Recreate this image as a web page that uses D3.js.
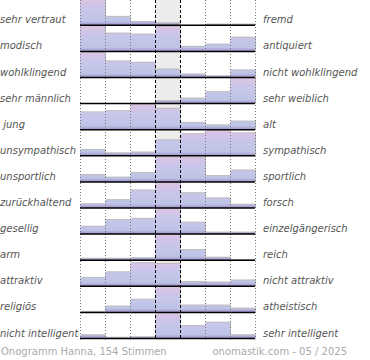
<!DOCTYPE html>
<html><head><meta charset="utf-8">
<script src="https://cdn.jsdelivr.net/npm/d3@7"></script>
<style>
html,body{margin:0;padding:0;background:#fff;}
svg{display:block;}
text{font-family:"DejaVu Sans",Verdana,sans-serif;}
</style></head>
<body>
<svg id="chart" width="370" height="360"></svg>
<script>
const leftLabels = ["sehr vertraut","modisch","wohlklingend","sehr männlich"," jung","unsympathisch","unsportlich","zurückhaltend","gesellig","arm","attraktiv","religiös","nicht intelligent"];
const rightLabels = ["fremd","antiquiert","nicht wohlklingend","sehr weiblich","alt","sympathisch","sportlich","forsch","einzelgängerisch","reich","nicht attraktiv","atheistisch","sehr intelligent"];
const columns = [1,2,3,4,5,6,7];
// bar heights in percent of row height, one list per row
const values = [
  [100, 33, 13, 8, 0, 3, 3],
  [100, 70, 66, 96, 18, 27, 54],
  [97, 63, 58, 31, 12, 5, 28],
  [0, 0, 0, 10, 20, 45, 100],
  [68, 73, 98, 82, 27, 17, 32],
  [23, 10, 13, 61, 85, 100, 88],
  [27, 17, 35, 97, 95, 23, 45],
  [15, 31, 69, 100, 58, 38, 13],
  [29, 55, 60, 100, 45, 6, 6],
  [6, 6, 8, 100, 40, 10, 1],
  [33, 55, 91, 88, 17, 15, 23],
  [2, 23, 50, 100, 27, 27, 15],
  [13, 3, 5, 100, 49, 62, 13]
];
const footerLeft = "Onogramm Hanna, 154 Stimmen";
const footerRight = "onomastik.com - 05 / 2025";

const svg = d3.select("#chart");
const x = d3.scaleBand().domain(columns).range([80, 255]).padding(0);
const y = d3.scaleBand().domain(d3.range(leftLabels.length)).range([-0.8, 338.5]).padding(0);
const h = d3.scaleLinear().domain([0, 100]).range([0, y.bandwidth() - 0.6]);
const plotBottom = y.range()[1] + 1;

const defs = svg.append("defs");
leftLabels.forEach((_, i) => {
  const g = defs.append("linearGradient").attr("id", "grad" + i)
    .attr("gradientUnits", "userSpaceOnUse")
    .attr("x1", 0).attr("x2", 0)
    .attr("y1", y(i)).attr("y2", y(i) + y.bandwidth());
  g.append("stop").attr("offset", 0).attr("stop-color", "#dfc3e3");
  g.append("stop").attr("offset", 0.4).attr("stop-color", "#c8c6ea");
  g.append("stop").attr("offset", 0.85).attr("stop-color", "#bec4e6");
  g.append("stop").attr("offset", 1).attr("stop-color", "#9d8ec8");
});

// middle column background
svg.append("rect")
  .attr("x", x(4)).attr("y", 0)
  .attr("width", x.bandwidth()).attr("height", plotBottom)
  .attr("fill", "#ececec");

// bars
values.forEach((row, i) => {
  const base = y(i) + y.bandwidth();
  const g = svg.append("g");
  const data = row.map((v, j) => ({col: columns[j], v})).filter(d => d.v > 0);
  g.selectAll("rect.shadow").data(data).join("rect")
    .attr("class", "shadow")
    .attr("x", d => x(d.col) + 1).attr("y", d => base - h(d.v) - 1)
    .attr("width", x.bandwidth()).attr("height", d => h(d.v) + 1)
    .attr("fill", "#a8a8a8").attr("opacity", 0.75);
  g.selectAll("rect.bar").data(data).join("rect")
    .attr("class", "bar")
    .attr("x", d => x(d.col)).attr("y", d => base - h(d.v))
    .attr("width", x.bandwidth()).attr("height", d => h(d.v))
    .attr("fill", "url(#grad" + i + ")");
});

// grid lines
const dotted = [1,2,3,6,7].map(c => x(c)).concat([x(7) + x.bandwidth()]);
svg.selectAll("line.dot").data(dotted).join("line")
  .attr("x1", d => d + 0.5).attr("x2", d => d + 0.5)
  .attr("y1", 0).attr("y2", plotBottom)
  .attr("stroke", "#777").attr("stroke-width", 1).attr("stroke-dasharray", "1,2");
svg.selectAll("line.dash").data([x(4), x(5)]).join("line")
  .attr("x1", d => d + 0.5).attr("x2", d => d + 0.5)
  .attr("y1", 0).attr("y2", plotBottom)
  .attr("stroke", "#000").attr("stroke-width", 1).attr("stroke-dasharray", "3,2");

// baselines
svg.selectAll("line.base").data(d3.range(leftLabels.length)).join("line")
  .attr("x1", x(1)).attr("x2", x(7) + x.bandwidth())
  .attr("y1", i => y(i) + y.bandwidth()).attr("y2", i => y(i) + y.bandwidth())
  .attr("stroke", "#000").attr("stroke-width", 1.5);

// labels
svg.selectAll("text.left").data(leftLabels).join("text")
  .attr("x", 0).attr("y", (d, i) => y(i) + y.bandwidth() - 2)
  .attr("font-size", 10).attr("font-style", "italic").attr("fill", "#555")
  .style("white-space", "pre")
  .text(d => d);
svg.selectAll("text.right").data(rightLabels).join("text")
  .attr("x", 263).attr("y", (d, i) => y(i) + y.bandwidth() - 2)
  .attr("font-size", 10).attr("font-style", "italic").attr("fill", "#555")
  .text(d => d);

// footer
svg.append("text").attr("x", 1).attr("y", 355)
  .attr("font-size", 10).attr("fill", "#aaa").text(footerLeft);
svg.append("text").attr("x", 347).attr("y", 355).attr("text-anchor", "end")
  .attr("font-size", 10).attr("fill", "#aaa").text(footerRight);
</script>
</body></html>
